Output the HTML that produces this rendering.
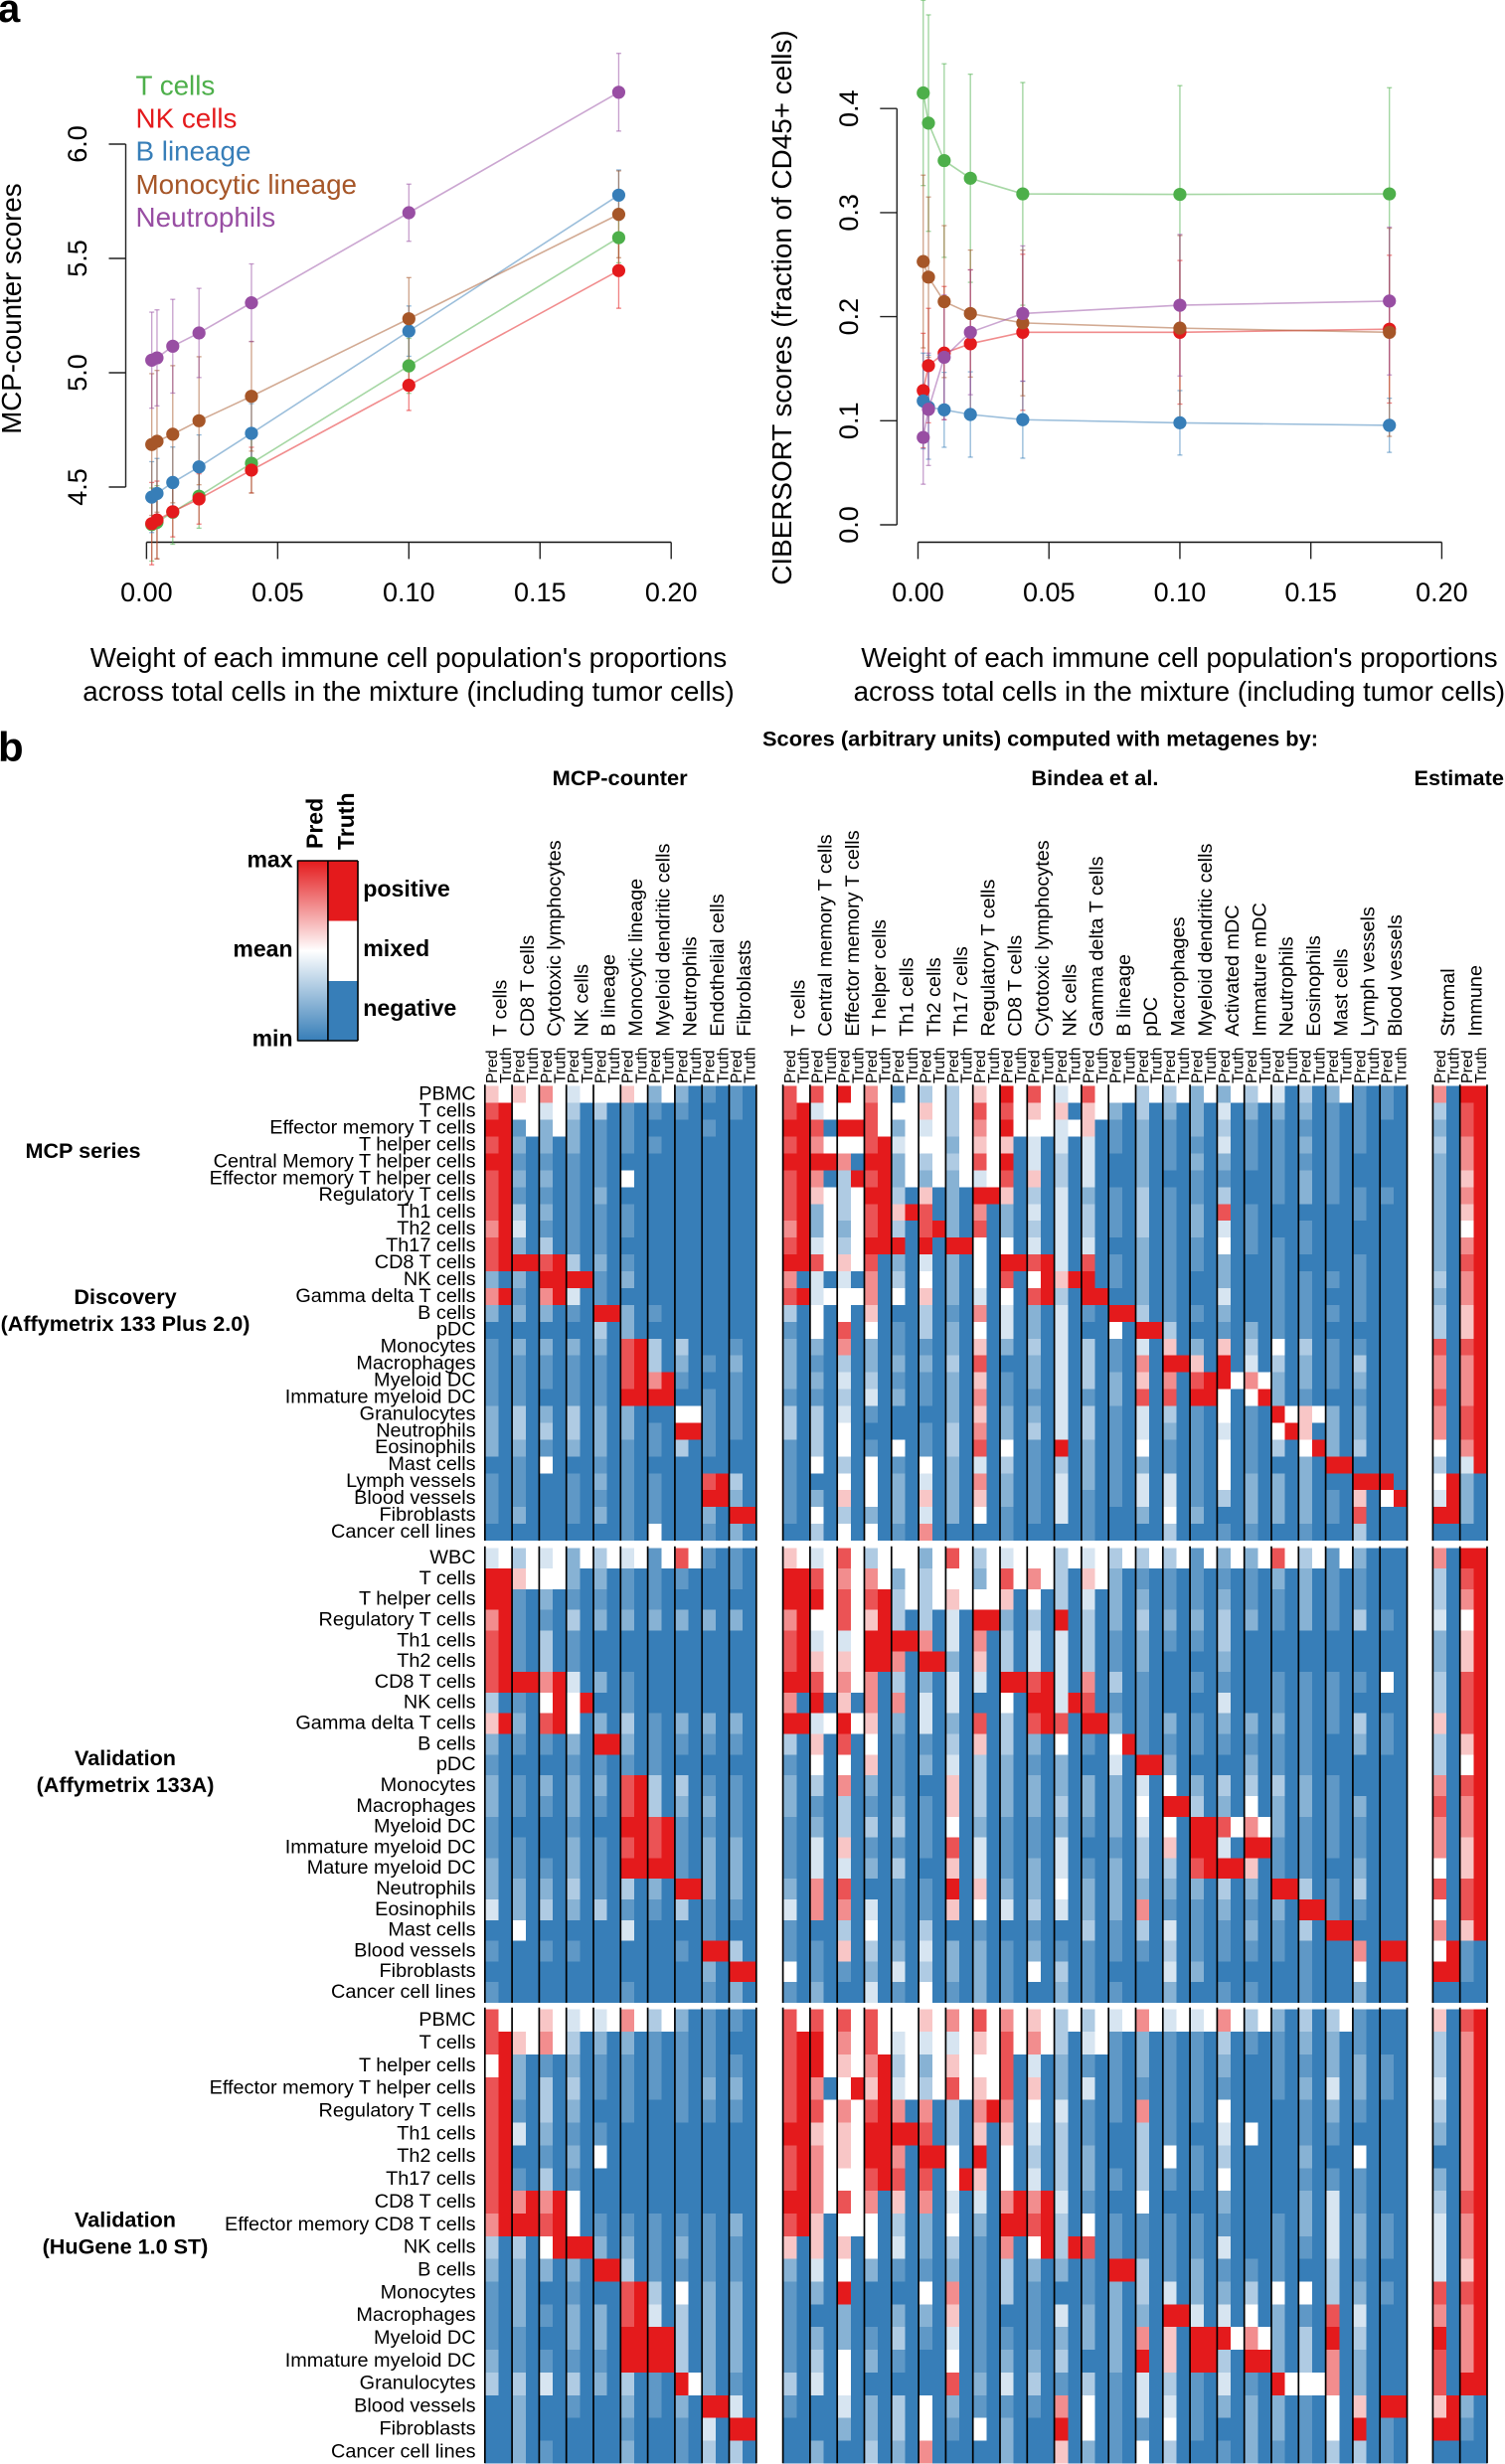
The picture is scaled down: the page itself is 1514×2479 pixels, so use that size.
<!DOCTYPE html>
<html lang="en">
<head>
<meta charset="utf-8">
<title>Immune score benchmark figure</title>
<style>
html,body{margin:0;padding:0;background:#fff;}
svg{display:block;font-family:"Liberation Sans",Arial,sans-serif;}
.bold{font-weight:bold;}
</style>
</head>
<body>
<svg id="fig" xmlns="http://www.w3.org/2000/svg" width="1514" height="2479" viewBox="0 0 1514 2479">
<defs>
<linearGradient id="predGrad" x1="0" y1="0" x2="0" y2="1">
<stop offset="0" stop-color="#E41A1C"/><stop offset="0.5" stop-color="#ffffff"/><stop offset="1" stop-color="#377EB8"/>
</linearGradient>
</defs>
<rect width="1514" height="2479" fill="#fff"/>
<g id="panelA"></g>
<g id="panelB"></g>

<text x="-2" y="22" font-size="40" class="bold">a</text>
<text x="-2" y="766" font-size="42" class="bold">b</text>

<g font-size="27.8">
<text x="136.5" y="95.5" fill="#4DAF4A">T cells</text>
<text x="136.5" y="128.6" fill="#E41A1C">NK cells</text>
<text x="136.5" y="161.6" fill="#377EB8">B lineage</text>
<text x="136.5" y="195" fill="#A65628">Monocytic lineage</text>
<text x="136.5" y="228" fill="#984EA3">Neutrophils</text>
</g>

<text font-size="27.7" text-anchor="middle" transform="translate(21 310.6) rotate(-90)">MCP-counter scores</text>
<text font-size="27.85" text-anchor="middle" transform="translate(796 309.5) rotate(-90)">CIBERSORT scores (fraction of CD45+ cells)</text>
<g font-size="27.7" text-anchor="middle">
<text x="411" y="671">Weight of each immune cell population's proportions</text>
<text x="411" y="705">across total cells in the mixture (including tumor cells)</text>
</g>
<g font-size="27.7" text-anchor="middle">
<text x="1186.4" y="671">Weight of each immune cell population's proportions</text>
<text x="1186.4" y="705">across total cells in the mixture (including tumor cells)</text>
</g>

<g class="bold">
<text x="767" y="750.7" font-size="21" textLength="559" lengthAdjust="spacingAndGlyphs">Scores (arbitrary units) computed with metagenes by:</text>
<text x="555.7" y="790" font-size="21" textLength="136" lengthAdjust="spacingAndGlyphs">MCP-counter</text>
<text x="1037.4" y="790" font-size="21" textLength="128" lengthAdjust="spacingAndGlyphs">Bindea et al.</text>
<text x="1422.5" y="790" font-size="21.7">Estimate</text>
</g>

<g>
<rect x="300" y="866" width="29.5" height="181" fill="url(#predGrad)"/>
<rect x="330.3" y="866" width="29.4" height="60.5" fill="#E41A1C"/>
<rect x="330.3" y="926.5" width="29.4" height="60.5" fill="#fff"/>
<rect x="330.3" y="987" width="29.4" height="60" fill="#377EB8"/>
<path d="M299.5 866H360M299.5 1047H360M299.5 865.5V1047.5M329.9 866V1047M360 866V1047" stroke="#000" stroke-width="1.6" fill="none"/>
<g class="bold" font-size="23">
<text x="294.5" y="872.7" text-anchor="end">max</text>
<text x="294.5" y="962.3" text-anchor="end">mean</text>
<text x="294.5" y="1052.7" text-anchor="end">min</text>
<text x="365.2" y="902.2" font-size="23.2">positive</text>
<text x="365.2" y="962.2" font-size="23.2">mixed</text>
<text x="365.2" y="1022.2" font-size="23.2">negative</text>
<text transform="translate(324.4 854) rotate(-90)">Pred</text>
<text transform="translate(356 855) rotate(-90)">Truth</text>
</g>
</g>

<g class="bold" font-size="21.6" text-anchor="middle">
<text x="83.5" y="1165">MCP series</text>
<text x="126" y="1312">Discovery</text>
<text x="126" y="1339">(Affymetrix 133 Plus 2.0)</text>
<text x="126" y="1776">Validation</text>
<text x="126" y="1803">(Affymetrix 133A)</text>
<text x="126" y="2240.5">Validation</text>
<text x="126" y="2267.5">(HuGene 1.0 ST)</text>
</g>
<g id="heat"></g>
</svg>

<script>
/* ---------- line chart data ---------- */
const weights = [0.002,0.004,0.01,0.02,0.04,0.1,0.18];
const xTicks = ["0.00","0.05","0.10","0.15","0.20"];
const mcpYTicks = ["4.5","5.0","5.5","6.0"];
const cibYTicks = ["0.0","0.1","0.2","0.3","0.4"];
const seriesNames = ["t-cells","nk-cells","b-lineage","monocytic-lineage","neutrophils"];
const seriesColors = ["#4DAF4A","#E41A1C","#377EB8","#A65628","#984EA3"];

const mcpT = [4.336,4.346,4.39,4.46,4.604,5.03,5.591];
const mcpNK = [4.34,4.356,4.392,4.448,4.574,4.945,5.447];
const mcpB = [4.456,4.472,4.52,4.588,4.735,5.182,5.777];
const mcpMono = [4.686,4.70,4.731,4.79,4.897,5.236,5.693];
const mcpNeut = [5.055,5.065,5.116,5.174,5.306,5.70,6.227];
const mcpTsd = [.16,.16,.14,.14,.13,.12,.11];
const mcpNKsd = [.18,.17,.11,.11,.10,.11,.165];
const mcpBsd = [.155,.153,.155,.14,.13,.11,.11];
const mcpMonoSd = [.31,.31,.30,.28,.24,.18,.19];
const mcpNeutSd = [.21,.21,.205,.195,.17,.125,.17];

const cibT = [.415,.386,.350,.333,.318,.3175,.318];
const cibNK = [.129,.153,.165,.174,.185,.185,.188];
const cibB = [.119,.113,.1105,.106,.101,.098,.0956];
const cibMono = [.253,.238,.2145,.203,.194,.189,.185];
const cibNeut = [.084,.111,.161,.185,.203,.211,.215];
const cibTsd = [.089,.104,.093,.10,.107,.1045,.102];
const cibNKsd = [.055,.055,.064,.071,.075,.069,.071];
const cibBsd = [.046,.05,.036,.041,.037,.031,.026];
const cibMonoSd = [.083,.077,.073,.061,.07,.089,.10];
const cibNeutSd = [.045,.054,.06,.06,.065,.068,.071];

/* ---------- heatmap labels ---------- */
const mcpColumns = ["T cells","CD8 T cells","Cytotoxic lymphocytes","NK cells","B lineage","Monocytic lineage","Myeloid dendritic cells","Neutrophils","Endothelial cells","Fibroblasts"];
const bindeaColumns = ["T cells","Central memory T cells","Effector memory T cells","T helper cells","Th1 cells","Th2 cells","Th17 cells","Regulatory T cells","CD8 T cells","Cytotoxic lymphocytes","NK cells","Gamma delta T cells","B lineage","pDC","Macrophages","Myeloid dendritic cells","Activated mDC","Immature mDC","Neutrophils","Eosinophils","Mast cells","Lymph vessels","Blood vessels"];
const estimateColumns = ["Stromal","Immune"];
const discoveryRows = ["PBMC","T cells","Effector memory T cells","T helper cells","Central Memory T helper cells","Effector memory T helper cells","Regulatory T cells","Th1 cells","Th2 cells","Th17 cells","CD8 T cells","NK cells","Gamma delta T cells","B cells","pDC","Monocytes","Macrophages","Myeloid DC","Immature myeloid DC","Granulocytes","Neutrophils","Eosinophils","Mast cells","Lymph vessels","Blood vessels","Fibroblasts","Cancer cell lines"];
const validationARows = ["WBC","T cells","T helper cells","Regulatory T cells","Th1 cells","Th2 cells","CD8 T cells","NK cells","Gamma delta T cells","B cells","pDC","Monocytes","Macrophages","Myeloid DC","Immature myeloid DC","Mature myeloid DC","Neutrophils","Eosinophils","Mast cells","Blood vessels","Fibroblasts","Cancer cell lines"];
const hugeneRows = ["PBMC","T cells","T helper cells","Effector memory T helper cells","Regulatory T cells","Th1 cells","Th2 cells","Th17 cells","CD8 T cells","Effector memory CD8 T cells","NK cells","B cells","Monocytes","Macrophages","Myeloid DC","Immature myeloid DC","Granulocytes","Blood vessels","Fibroblasts","Cancer cell lines"];

/* ---------- heatmap values: 0 = min/negative, 5 = mean/mixed, 9 = max/positive; columns alternate Pred, Truth ---------- */
const discoveryMcp = [
[6,5,6,5,7,5,4,5,5,5,6,5,2,5,2,0,1,0,1,0],
[8,9,5,5,4,5,3,0,3,0,1,0,1,0,1,0,0,0,1,0],
[9,9,1,5,2,5,2,0,1,0,1,0,0,0,0,0,1,0,0,0],
[8,9,2,0,2,0,2,0,1,0,1,0,1,0,0,0,0,0,0,0],
[9,9,1,0,1,0,1,0,1,0,0,0,0,0,0,0,0,0,0,0],
[8,9,2,0,2,0,1,0,1,0,5,0,0,0,0,0,0,0,0,0],
[8,9,1,0,1,0,1,0,2,0,0,0,0,0,0,0,0,0,0,0],
[8,9,3,0,2,0,1,0,1,0,1,0,0,0,0,0,0,0,0,0],
[7,9,4,0,1,0,1,0,1,0,1,0,0,0,0,0,0,0,0,0],
[8,9,2,0,3,0,1,0,1,0,0,0,0,0,0,0,0,0,0,0],
[8,9,9,9,8,9,3,0,2,0,1,0,0,0,0,0,0,0,0,0],
[2,0,2,0,9,9,9,9,1,0,2,0,0,0,0,0,0,0,0,0],
[7,9,1,0,7,9,4,0,1,0,0,0,0,0,0,0,0,0,0,0],
[2,0,2,0,2,0,1,0,9,9,2,0,1,0,0,0,0,0,0,0],
[0,0,0,0,0,0,0,0,3,0,2,0,0,0,0,0,0,0,0,0],
[1,0,2,0,2,0,2,0,2,0,8,9,3,0,3,0,0,0,1,0],
[1,0,1,0,1,0,1,0,1,0,8,9,3,0,2,0,1,0,2,0],
[1,0,1,0,1,0,1,0,1,0,8,9,7,9,1,0,0,0,1,0],
[1,0,1,0,0,0,1,0,1,0,9,9,9,9,0,0,1,0,1,0],
[2,0,3,0,2,0,3,0,2,0,2,0,0,0,5,5,1,0,1,0],
[2,0,3,0,3,0,3,0,2,0,2,0,1,0,9,9,1,0,1,0],
[2,0,2,0,1,0,2,0,2,0,1,0,1,0,3,0,1,0,0,0],
[0,0,1,0,5,0,0,0,1,0,1,0,0,0,0,0,0,0,0,0],
[1,0,1,0,0,0,1,0,2,0,1,0,1,0,0,0,8,9,3,0],
[1,0,1,0,0,0,1,0,1,0,1,0,1,0,0,0,9,9,2,0],
[1,0,2,0,0,0,1,0,2,0,1,0,1,0,0,0,2,0,9,9],
[0,0,0,0,0,0,0,0,0,0,1,0,5,0,0,0,1,0,2,0]
];
const discoveryBindea = [
[8,5,8,5,9,5,7,5,1,5,3,5,3,5,6,5,9,5,8,5,4,5,8,5,5,5,3,5,3,5,2,5,2,5,3,5,4,0,3,0,2,5,1,0,1,0],
[8,9,4,5,5,5,8,5,5,5,6,5,3,5,8,5,8,5,6,5,6,0,6,5,2,0,3,0,2,0,2,0,4,0,2,0,2,0,2,0,1,0,1,0,1,0],
[9,9,8,0,9,9,8,5,2,5,4,5,3,5,7,5,9,5,5,5,4,5,6,0,1,0,2,0,1,0,2,0,3,0,1,0,1,0,1,0,1,0,1,0,0,0],
[8,9,7,5,5,5,8,9,4,5,5,5,2,5,6,5,6,0,4,0,4,0,4,0,1,0,2,0,1,0,1,0,4,0,1,0,1,0,2,0,1,0,1,0,0,0],
[9,9,9,9,7,0,9,9,2,5,3,5,3,5,8,5,9,0,4,0,3,0,4,0,0,0,2,0,1,0,2,0,2,0,1,0,1,0,1,0,1,0,0,0,0,0],
[8,9,7,0,3,9,8,9,2,5,2,5,2,5,4,5,8,0,6,0,3,0,4,0,0,0,2,0,0,0,1,0,1,0,0,0,1,0,2,0,1,0,0,0,0,0],
[8,9,6,5,3,5,9,9,3,0,6,0,2,0,9,9,6,0,3,0,4,0,2,0,1,0,3,0,1,0,1,0,3,0,0,0,1,0,2,0,1,0,1,0,1,0],
[8,9,2,5,3,5,8,9,6,9,8,0,2,0,7,0,2,0,4,0,4,0,3,0,1,0,3,0,1,0,2,0,8,0,1,0,0,0,0,0,0,0,1,0,0,0],
[7,9,2,5,2,5,8,9,3,0,8,9,2,0,8,0,2,0,3,0,4,0,3,0,1,0,3,0,1,0,2,0,4,0,1,0,0,0,1,0,0,0,0,0,0,0],
[8,9,4,5,3,5,9,9,9,0,9,0,9,9,5,0,5,0,4,0,4,0,4,0,0,0,2,0,1,0,1,0,5,0,1,0,1,0,1,0,0,0,0,0,0,0],
[9,9,8,5,6,5,8,0,2,0,4,0,2,0,5,0,9,9,8,9,4,0,8,0,1,0,2,0,1,0,1,0,2,0,0,0,1,0,0,0,0,0,1,0,0,0],
[7,0,4,0,4,0,7,0,3,0,5,0,2,0,5,0,8,0,5,9,6,9,9,0,1,0,2,0,1,0,0,0,2,0,0,0,1,0,1,0,1,0,1,0,0,0],
[8,9,4,5,5,5,7,0,5,0,6,0,2,0,4,0,5,0,8,9,3,0,9,9,0,0,2,0,1,0,0,0,4,0,0,0,1,0,1,0,0,0,1,0,0,0],
[3,0,5,0,5,0,6,0,0,0,3,0,1,0,7,0,4,0,2,0,4,0,1,0,9,9,3,0,1,0,1,0,2,0,0,0,1,0,1,0,1,0,1,0,0,0],
[1,0,5,0,8,0,5,0,1,0,3,0,2,0,5,0,4,0,2,0,4,0,0,0,5,0,9,9,3,0,0,0,1,0,2,0,1,0,1,0,0,0,0,0,0,0],
[2,0,2,0,7,0,2,0,1,0,1,0,2,0,6,0,2,0,3,0,4,0,3,0,1,0,4,0,6,0,2,0,6,0,3,0,5,0,3,0,1,0,1,0,0,0],
[2,0,1,0,3,0,2,0,2,0,2,0,3,0,8,0,0,0,2,0,4,0,3,0,1,0,7,0,9,9,6,0,9,0,4,0,3,0,2,0,1,0,3,0,0,0],
[2,0,2,0,4,0,3,0,1,0,1,0,2,0,6,0,1,0,2,0,4,0,3,0,2,0,6,0,7,0,8,9,9,5,7,5,2,0,2,0,1,0,2,0,0,0],
[1,0,1,0,3,0,4,0,2,0,1,0,2,0,7,0,1,0,1,0,4,0,1,0,2,0,8,0,8,0,9,9,5,0,5,9,2,0,1,0,0,0,1,0,0,0],
[3,0,3,0,4,0,1,0,0,0,0,0,2,0,6,0,2,0,2,0,4,0,3,0,1,0,4,0,3,0,1,0,5,0,1,0,9,5,6,5,2,0,2,0,0,0],
[3,0,3,0,5,0,0,0,0,0,1,0,3,0,7,0,2,0,3,0,4,0,3,0,1,0,4,0,2,0,1,0,4,0,1,0,5,9,6,0,2,0,2,0,0,0],
[1,0,3,0,5,0,1,0,5,0,1,0,3,0,8,0,5,0,1,0,9,0,2,0,1,0,5,0,1,0,1,0,5,0,1,0,3,0,5,9,2,0,3,0,0,0],
[1,0,5,0,3,0,5,0,1,0,5,0,2,0,4,0,3,0,1,0,3,0,2,0,1,0,2,0,1,0,1,0,5,0,1,0,0,0,2,0,9,9,0,0,0,0],
[1,0,0,0,5,0,5,0,2,0,4,0,2,0,7,0,2,0,1,0,4,0,2,0,1,0,4,0,4,0,1,0,5,0,2,0,2,0,2,0,0,0,9,9,9,0],
[1,0,2,0,6,0,5,0,2,0,6,0,2,0,6,0,2,0,1,0,4,0,1,0,1,0,4,0,4,0,1,0,3,0,2,0,2,0,2,0,1,0,6,0,5,9],
[1,0,5,0,3,0,2,0,2,0,4,0,2,0,5,0,1,0,1,0,4,0,1,0,0,0,2,0,5,0,2,0,0,0,2,0,2,0,2,0,1,0,8,0,0,0],
[0,0,3,0,5,0,5,0,1,0,7,0,0,0,0,0,1,0,0,0,0,0,1,0,0,0,0,0,3,0,0,0,1,0,1,0,0,0,1,0,0,0,3,0,0,0]
];
const discoveryEstimate = [
[7,0,9,9],[3,0,8,9],[2,0,8,9],[3,0,7,9],[2,0,7,9],[2,0,6,9],[2,0,7,9],[2,0,6,9],[2,0,5,9],[2,0,7,9],
[2,0,8,9],[3,0,7,9],[2,0,7,9],[3,0,6,9],[3,0,6,9],[8,0,8,9],[7,0,7,9],[7,0,7,9],[8,0,7,9],[7,0,8,9],
[7,0,8,9],[5,0,7,9],[3,0,4,9],[5,9,2,0],[4,9,2,0],[9,9,2,0],[0,0,0,0]
];
const validationAMcp = [
[4,5,3,5,4,5,2,5,3,5,4,5,1,5,8,5,1,0,1,0],
[9,9,6,5,5,5,2,0,2,0,1,0,1,0,1,0,0,0,1,0],
[9,9,1,0,2,0,1,0,1,0,1,0,1,0,0,0,0,0,0,0],
[7,9,1,0,1,0,3,0,2,0,2,0,2,0,2,0,2,0,2,0],
[8,9,1,0,3,0,1,0,0,0,0,0,0,0,0,0,0,0,0,0],
[8,9,1,0,3,0,1,0,0,0,0,0,0,0,0,0,0,0,0,0],
[8,9,9,9,7,9,4,0,2,0,1,0,0,0,0,0,0,0,0,0],
[3,0,1,0,5,9,5,9,0,0,1,0,0,0,0,0,0,0,0,0],
[6,9,2,0,8,9,5,0,2,0,3,0,1,0,2,0,2,0,2,0],
[2,0,1,0,1,0,2,0,9,9,2,0,1,0,1,0,1,0,1,0],
[1,0,0,0,0,0,1,0,1,0,1,0,1,0,0,0,0,0,0,0],
[2,0,1,0,2,0,2,0,2,0,8,9,3,0,3,0,1,0,1,0],
[2,0,1,0,1,0,2,0,1,0,8,9,3,0,2,0,2,0,1,0],
[1,0,0,0,0,0,1,0,0,0,9,9,8,9,1,0,1,0,1,0],
[1,0,1,0,0,0,2,0,1,0,8,9,8,9,1,0,2,0,2,0],
[2,0,1,0,1,0,2,0,1,0,9,9,9,9,1,0,2,0,2,0],
[2,0,2,0,2,0,3,0,1,0,3,0,2,0,9,9,2,0,2,0],
[4,0,2,0,3,0,2,0,3,0,1,0,1,0,3,0,1,0,1,0],
[0,0,5,0,0,0,0,0,0,0,4,0,0,0,0,0,1,0,0,0],
[1,0,0,0,1,0,1,0,0,0,0,0,0,0,1,0,9,9,3,0],
[0,0,0,0,0,0,0,0,0,0,0,0,0,0,0,0,2,0,9,9],
[1,0,0,0,0,0,0,0,0,0,1,0,0,0,0,0,1,0,2,0]
];
const validationABindea = [
[6,5,4,5,8,5,3,5,5,5,2,5,8,5,3,5,4,5,5,5,3,5,4,5,3,5,3,5,3,5,1,5,2,5,2,5,8,5,3,5,1,5,2,0,0,0],
[9,9,8,5,7,5,7,5,2,5,3,5,5,5,2,5,8,5,7,5,3,0,6,5,2,0,1,0,1,0,1,0,1,0,1,0,2,0,2,0,1,0,1,0,0,0],
[9,9,9,5,8,5,8,9,3,5,3,5,6,5,5,5,6,0,5,0,3,0,4,0,2,0,2,0,1,0,1,0,2,0,1,0,1,0,2,0,1,0,1,0,0,0],
[7,9,5,5,8,5,6,9,3,0,3,0,4,0,9,9,2,0,3,0,9,0,3,0,2,0,3,0,2,0,2,0,3,0,2,0,1,0,2,0,1,0,3,0,1,0],
[8,9,4,5,4,5,9,9,9,9,7,0,4,0,7,0,3,0,4,0,4,0,3,0,1,0,2,0,1,0,1,0,3,0,0,0,0,0,0,0,0,0,0,0,0,0],
[8,9,6,5,6,5,9,9,7,0,9,9,2,0,6,0,3,0,4,0,4,0,3,0,1,0,2,0,0,0,0,0,2,0,0,0,0,0,0,0,0,0,0,0,0,0],
[9,9,8,5,7,5,7,0,3,0,2,0,4,0,4,0,9,9,8,9,4,0,7,0,3,0,1,0,0,0,1,0,1,0,0,0,1,0,1,0,1,0,1,0,5,0],
[7,0,9,0,6,0,7,0,7,0,4,0,4,0,0,0,5,0,9,9,4,9,8,0,1,0,1,0,0,0,0,0,4,0,0,0,1,0,1,0,1,0,0,0,0,0],
[9,9,4,5,9,5,6,0,2,0,4,0,2,0,8,0,3,0,8,9,8,0,9,9,2,0,1,0,2,0,1,0,2,0,2,0,2,0,1,0,1,0,3,0,1,0],
[3,0,6,0,8,0,5,0,1,0,1,0,3,0,6,0,3,0,2,0,5,0,1,0,5,9,1,0,1,0,1,0,1,0,1,0,1,0,1,0,0,0,2,0,1,0],
[1,0,5,0,5,0,6,0,1,0,2,0,4,0,3,0,2,0,1,0,2,0,0,0,4,0,9,9,2,0,0,0,0,0,2,0,1,0,1,0,0,0,0,0,0,0],
[2,0,3,0,7,0,2,0,1,0,0,0,6,0,3,0,2,0,2,0,2,0,2,0,2,0,4,0,5,0,2,0,3,0,3,0,3,0,2,0,1,0,0,0,0,0],
[2,0,1,0,3,0,1,0,2,0,1,0,6,0,3,0,2,0,2,0,3,0,2,0,2,0,5,0,9,9,3,0,2,0,5,0,2,0,2,0,1,0,2,0,0,0],
[1,0,2,0,3,0,3,0,3,0,1,0,5,0,2,0,1,0,1,0,2,0,1,0,2,0,4,0,5,0,9,9,8,5,7,5,2,0,1,0,1,0,1,0,0,0],
[1,0,4,0,6,0,1,0,1,0,1,0,8,0,4,0,1,0,1,0,4,0,0,0,1,0,3,0,6,0,9,9,4,0,9,9,1,0,1,0,1,0,1,0,0,0],
[1,0,4,0,4,0,2,0,3,0,0,0,6,0,4,0,1,0,2,0,4,0,1,0,2,0,3,0,3,0,8,9,9,9,6,0,1,0,1,0,0,0,2,0,0,0],
[2,0,7,0,8,0,0,0,1,0,1,0,9,0,6,0,2,0,2,0,5,0,2,0,2,0,2,0,2,0,2,0,3,0,2,0,9,9,3,0,1,0,3,0,0,0],
[4,0,7,0,7,0,4,0,1,0,1,0,6,0,5,0,4,0,3,0,4,0,2,0,2,0,7,0,1,0,1,0,2,0,1,0,2,0,9,9,1,0,1,0,0,0],
[1,0,0,0,3,0,5,0,1,0,3,0,0,0,1,0,0,0,1,0,0,0,3,0,1,0,3,0,4,0,1,0,1,0,2,0,1,0,3,0,9,9,0,0,0,0],
[1,0,1,0,6,0,3,0,2,0,4,0,2,0,2,0,1,0,2,0,1,0,1,0,1,0,1,0,3,0,1,0,1,0,1,0,1,0,1,0,0,0,7,0,9,9],
[5,0,1,0,1,0,2,0,4,0,3,0,2,0,2,0,1,0,5,0,3,0,1,0,0,0,0,0,4,0,2,0,0,0,0,0,0,0,1,0,0,0,5,0,0,0],
[1,0,2,0,0,0,4,0,1,0,5,0,1,0,2,0,1,0,0,0,2,0,1,0,1,0,0,0,2,0,0,0,1,0,1,0,0,0,1,0,0,0,2,0,0,0]
];
const validationAEstimate = [
[7,0,9,9],[3,0,8,9],[3,0,7,9],[4,0,5,9],[2,0,6,9],[2,0,6,9],[3,0,8,9],[3,0,8,9],[6,0,8,9],[3,0,6,9],
[3,0,5,9],[7,0,8,9],[8,0,7,9],[7,0,7,9],[7,0,6,9],[5,0,6,9],[8,0,8,9],[5,0,8,9],[7,0,6,9],[5,9,1,0],
[9,9,1,0],[0,0,0,0]
];
const hugeneMcp = [
[8,5,5,5,6,5,4,5,4,5,7,5,3,5,2,0,1,0,1,0],
[8,9,6,5,7,5,3,0,2,0,2,0,1,0,1,0,1,0,0,0],
[5,9,2,0,1,0,2,0,1,0,1,0,1,0,1,0,1,0,1,0],
[8,9,2,0,3,0,3,0,1,0,1,0,1,0,1,0,2,0,2,0],
[8,9,1,0,3,0,2,0,0,0,1,0,0,0,1,0,1,0,1,0],
[8,9,4,0,2,0,1,0,1,0,0,0,0,0,0,0,0,0,0,0],
[8,9,0,0,1,0,2,0,5,0,0,0,0,0,0,0,0,0,0,0],
[8,9,1,0,3,0,1,0,0,0,0,0,0,0,0,0,0,0,0,0],
[8,9,7,9,7,9,5,0,0,0,0,0,0,0,0,0,0,0,0,0],
[7,9,9,9,8,9,5,0,1,0,1,0,1,0,1,0,1,0,2,0],
[3,0,3,0,5,9,9,9,2,0,2,0,1,0,2,0,1,0,1,0],
[2,0,2,0,2,0,2,0,9,9,3,0,1,0,1,0,1,0,1,0],
[1,0,2,0,0,0,1,0,0,0,8,9,3,0,5,0,2,0,2,0],
[1,0,2,0,1,0,2,0,2,0,8,9,4,0,3,0,2,0,2,0],
[1,0,1,0,0,0,2,0,2,0,9,9,9,9,3,0,2,0,2,0],
[2,0,1,0,1,0,1,0,1,0,9,9,9,9,3,0,2,0,2,0],
[3,0,3,0,4,0,3,0,2,0,3,0,1,0,9,5,2,0,1,0],
[0,0,2,0,0,0,1,0,0,0,2,0,1,0,2,0,9,9,4,0],
[0,0,2,0,0,0,0,0,0,0,1,0,0,0,1,0,4,0,9,9],
[0,0,2,0,1,0,0,0,0,0,2,0,0,0,1,0,3,0,3,0]
];
const hugeneBindea = [
[8,5,8,5,8,5,8,5,5,5,6,5,7,5,8,5,7,5,6,5,3,5,3,5,4,5,7,5,4,5,4,5,7,5,3,5,2,0,3,0,3,5,1,0,0,0],
[8,9,9,5,7,5,8,5,4,5,4,5,4,5,6,5,8,5,7,5,3,0,4,5,1,0,2,0,1,0,1,0,3,0,1,0,1,0,2,0,2,0,1,0,0,0],
[8,9,9,5,6,5,7,9,3,5,2,5,6,5,5,5,8,0,4,0,2,0,1,0,1,0,2,0,1,0,1,0,2,0,0,0,1,0,1,0,2,0,2,0,1,0],
[8,9,7,0,5,9,6,9,4,5,3,5,8,5,6,5,8,0,6,0,2,0,4,0,1,0,1,0,1,0,1,0,1,0,0,0,1,0,2,0,4,0,2,0,1,0],
[8,9,8,5,7,5,8,9,7,0,7,0,3,0,7,9,7,0,5,0,4,0,1,0,1,0,7,0,1,0,1,0,5,0,0,0,0,0,1,0,2,0,1,0,0,0],
[9,9,6,5,6,5,9,9,9,9,8,0,3,0,6,0,6,0,4,0,3,0,1,0,0,0,3,0,1,0,0,0,4,0,5,0,0,0,1,0,1,0,0,0,0,0],
[8,9,7,5,6,5,9,9,7,0,9,9,5,0,9,0,5,0,3,0,3,0,2,0,0,0,3,0,5,0,1,0,3,0,0,0,0,0,2,0,0,0,5,0,0,0],
[8,9,7,5,5,5,8,9,8,0,8,0,5,9,6,0,5,0,4,0,3,0,2,0,1,0,3,0,1,0,1,0,5,0,0,0,0,0,1,0,1,0,1,0,0,0],
[9,9,7,5,8,5,7,0,6,0,7,0,4,0,4,0,7,9,7,9,4,0,1,0,0,0,5,0,0,0,0,0,2,0,0,0,0,0,2,0,4,0,1,0,0,0],
[8,9,6,0,5,5,5,0,3,0,2,0,5,0,2,0,9,9,8,9,3,0,5,0,1,0,1,0,1,0,1,0,1,0,0,0,1,0,2,0,4,0,2,0,1,0],
[6,0,6,0,6,0,5,0,4,0,2,0,3,0,1,0,7,0,5,9,3,9,8,0,1,0,1,0,1,0,1,0,4,0,0,0,1,0,1,0,4,0,2,0,1,0],
[2,0,4,0,5,0,2,0,1,0,1,0,2,0,1,0,3,0,2,0,2,0,1,0,9,9,3,0,1,0,2,0,1,0,1,0,1,0,0,0,3,0,1,0,0,0],
[1,0,2,0,9,0,0,0,0,0,5,0,7,0,1,0,3,0,1,0,0,0,1,0,2,0,3,0,4,0,2,0,2,0,3,0,5,0,5,0,3,0,2,0,1,0],
[1,0,0,0,2,0,0,0,2,0,2,0,6,0,1,0,0,0,1,0,4,0,2,0,2,0,2,0,9,9,4,0,4,0,5,0,2,0,1,0,8,0,4,0,0,0],
[1,0,2,0,2,0,1,0,3,0,1,0,4,0,1,0,1,0,1,0,2,0,2,0,2,0,7,0,6,0,9,9,9,5,7,5,2,0,3,0,9,0,3,0,0,0],
[1,0,3,0,5,0,2,0,1,0,0,0,5,0,1,0,2,0,2,0,3,0,0,0,2,0,9,0,6,0,9,9,3,0,9,9,2,0,3,0,7,0,2,0,0,0],
[3,0,4,0,5,0,0,0,0,0,0,0,8,0,2,0,4,0,3,0,1,0,3,0,1,0,4,0,3,0,1,0,4,0,1,0,9,5,5,5,7,0,2,0,0,0],
[1,0,0,0,4,0,2,0,3,0,5,0,2,0,1,0,1,0,1,0,7,0,5,0,1,0,4,0,4,0,1,0,2,0,2,0,2,0,1,0,5,0,6,0,9,9],
[0,0,0,0,2,0,2,0,3,0,5,0,1,0,5,0,2,0,0,0,9,0,5,0,1,0,1,0,5,0,1,0,0,0,2,0,2,0,1,0,5,0,9,0,1,0],
[0,0,2,0,0,0,3,0,2,0,7,0,0,0,0,0,2,0,0,0,6,0,2,0,1,0,5,0,3,0,0,0,1,0,2,0,1,0,1,0,3,0,3,0,1,0]
];
const hugeneEstimate = [
[6,0,8,9],[3,0,7,9],[3,0,7,9],[4,0,7,9],[3,0,7,9],[2,0,7,9],[0,0,7,9],[2,0,7,9],[3,0,8,9],[4,0,7,9],
[4,0,7,9],[4,0,6,9],[8,0,8,9],[7,0,7,9],[9,0,7,9],[8,0,7,9],[8,0,9,9],[6,9,2,0],[9,9,1,0],[0,0,0,0]
];

/* ---------- helpers ---------- */
const SVGNS = "http://www.w3.org/2000/svg";
function mk(tag, parent){
  const e = document.createElementNS(SVGNS, tag);
  parent.appendChild(e);
  return e;
}
function line(parent, x1, y1, x2, y2, stroke, w, op){
  const l = mk("line", parent);
  l.setAttribute("x1", x1); l.setAttribute("y1", y1);
  l.setAttribute("x2", x2); l.setAttribute("y2", y2);
  l.setAttribute("stroke", stroke); l.setAttribute("stroke-width", w);
  if (op !== undefined) l.setAttribute("stroke-opacity", op);
  return l;
}
function label(parent, str, size, transform, anchor){
  const t = mk("text", parent);
  t.textContent = str;
  t.setAttribute("font-size", size);
  t.setAttribute("transform", transform);
  if (anchor) t.setAttribute("text-anchor", anchor);
  return t;
}

/* ---------- line charts ---------- */
function drawLineChart(group, xFn, yFn, yTickLabels, axisLeft, means, sds){
  const axisY = 545.5, tickEnd = 562.4;
  const xAxis = line(group, xFn(0), axisY, xFn(0.2), axisY, "#111", 1.4);
  
  
  xTicks.forEach(function(s){
    const v = parseFloat(s);
    const tk = line(group, xFn(v), axisY, xFn(v), tickEnd, "#222", 1.4);
    
    
    const tl = label(group, s, 27, "translate(" + xFn(v) + " 605)", "middle");
    
    
  });
  const yVals = yTickLabels.map(parseFloat);
  const yAxis = line(group, axisLeft, yFn(yVals[0]), axisLeft, yFn(yVals[yVals.length-1]), "#222", 1.4);
  
  
  yTickLabels.forEach(function(s){
    const v = parseFloat(s);
    const tk = line(group, axisLeft-17, yFn(v), axisLeft, yFn(v), "#222", 1.4);
    
    
    const tl = label(group, s, 27, "translate(" + (axisLeft-39.5) + " " + yFn(v) + ") rotate(-90)", "middle");
    
    
  });
  means.forEach(function(vals, si){
    const c = seriesColors[si];
    const sd = sds[si];
    vals.forEach(function(v, i){
      const x = xFn(weights[i]);
      const top = yFn(v + sd[i]), bot = yFn(v - sd[i]);
      const bar = line(group, x, top, x, bot, c, 1.3, 0.55);
      
      
      const capT = line(group, x-2.5, top, x+2.5, top, c, 1.3, 0.55);
      
      
      const capB = line(group, x-2.5, bot, x+2.5, bot, c, 1.3, 0.55);
      
      
    });
  });
  means.forEach(function(vals, si){
    const c = seriesColors[si];
    const pl = mk("polyline", group);
    pl.setAttribute("points", vals.map(function(v, i){ return xFn(weights[i]) + "," + yFn(v); }).join(" "));
    pl.setAttribute("fill", "none");
    pl.setAttribute("stroke", c);
    pl.setAttribute("stroke-width", 1.6);
    pl.setAttribute("stroke-opacity", 0.5);
    
    
    vals.forEach(function(v, i){
      const p = mk("circle", group);
      p.setAttribute("cx", xFn(weights[i]));
      p.setAttribute("cy", yFn(v));
      p.setAttribute("r", 6.6);
      p.setAttribute("fill", c);
      
      
    });
  });
}
function xScaleA(v){ return 147.4 + v * 2639; }
function yScaleA(v){ return 145 + (6 - v) * 230; }
function xScaleB(v){ return 923.5 + v * 2634.5; }
function yScaleB(v){ return 528 - v * 1047; }
drawLineChart(document.getElementById("panelA"), xScaleA, yScaleA, mcpYTicks, 126.5,
  [mcpT, mcpNK, mcpB, mcpMono, mcpNeut], [mcpTsd, mcpNKsd, mcpBsd, mcpMonoSd, mcpNeutSd]);
drawLineChart(document.getElementById("panelB"), xScaleB, yScaleB, cibYTicks, 902.3,
  [cibT, cibNK, cibB, cibMono, cibNeut], [cibTsd, cibNKsd, cibBsd, cibMonoSd, cibNeutSd]);

/* ---------- heatmap ---------- */
const heat = document.getElementById("heat");
const cellW = 13.65;
function levelColor(level){
  const lo = [55,126,184], mid = [255,255,255], hi = [228,26,28];
  const a = level <= 5 ? lo : mid;
  const b = level <= 5 ? mid : hi;
  const t = level <= 5 ? level / 5 : (level - 5) / 4;
  const ch = [0,1,2].map(function(k){ return Math.round(a[k] + (b[k] - a[k]) * t); });
  return "rgb(" + ch.join(",") + ")";
}
function drawColumnHeaders(x0, names, offset){
  names.forEach(function(n, i){
    const center = x0 + cellW * (2 * i + 1);
    const t = label(heat, n, 19.85, "translate(" + (center + offset) + " 1042.7) rotate(-90)");
    
    
    const p = label(heat, "Pred", 15.9, "translate(" + (x0 + cellW * 2 * i + 12.4) + " 1090) rotate(-90)");
    
    
    const q = label(heat, "Truth", 15.9, "translate(" + (x0 + cellW * (2 * i + 1) + 12.4) + " 1090) rotate(-90)");
    
    
  });
}
const mcpX = 487.8, bindeaX = 787.6, estimateX = 1441.4;
drawColumnHeaders(mcpX, mcpColumns, 8);
drawColumnHeaders(bindeaX, bindeaColumns, 8);
drawColumnHeaders(estimateX, estimateColumns, 8);

function drawBlock(name, x0, top, rowH, matrix){
  const g = mk("g", heat);
  
  
  matrix.forEach(function(row, r){
    row.forEach(function(v, c){
      const cell = mk("rect", g);
      cell.setAttribute("x", x0 + c * cellW);
      cell.setAttribute("y", top + r * rowH);
      cell.setAttribute("width", cellW + 0.1);
      cell.setAttribute("height", rowH + 0.1);
      cell.setAttribute("fill", levelColor(v));
      cell.setAttribute("shape-rendering", "crispEdges");
      
      
    });
  });
  const pairs = matrix[0].length / 2;
  for (let i = 0; i <= pairs; i++){
    const x = x0 + i * 2 * cellW;
    const s = line(g, x, top - 1.5, x, top + rowH * matrix.length, "#000", 1.7);
    
    
  }
}
function drawCohort(id, top, bottom, rows, mcp, bindea, estimate){
  const rowH = (bottom - top) / rows.length;
  rows.forEach(function(n, r){
    const t = label(heat, n, 19.85, "translate(478.6 " + (top + rowH * (r + 0.5) + 5.4) + ")", "end");
    
    
  });
  drawBlock(id + "-mcp-counter", mcpX, top, rowH, mcp);
  drawBlock(id + "-bindea", bindeaX, top, rowH, bindea);
  drawBlock(id + "-estimate", estimateX, top, rowH, estimate);
}
drawCohort("discovery", 1092.7, 1550, discoveryRows, discoveryMcp, discoveryBindea, discoveryEstimate);
drawCohort("validation-133a", 1557.3, 2015, validationARows, validationAMcp, validationABindea, validationAEstimate);
drawCohort("validation-hugene", 2021.3, 2478.3, hugeneRows, hugeneMcp, hugeneBindea, hugeneEstimate);
</script>
</body>
</html>
